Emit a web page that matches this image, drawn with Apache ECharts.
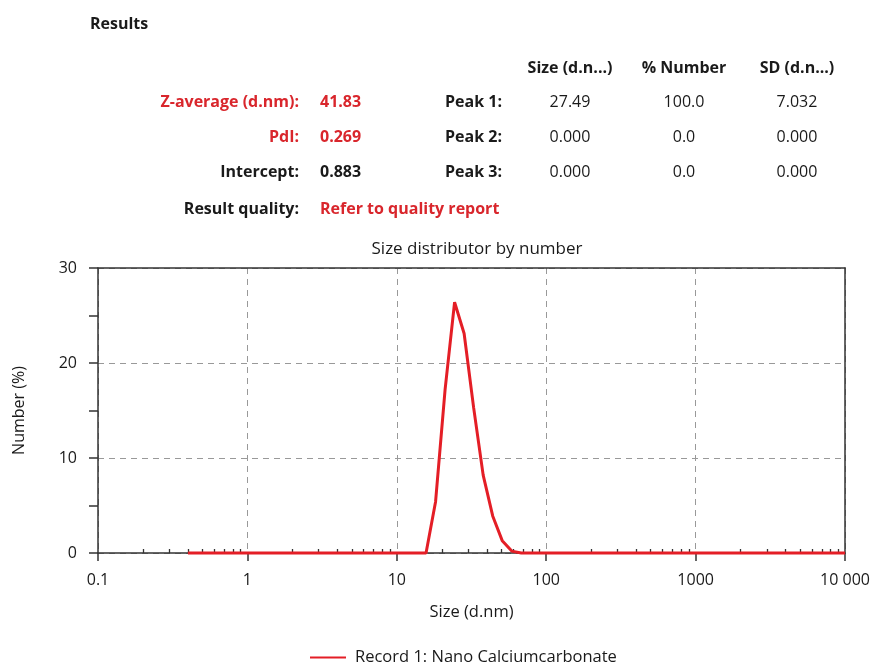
<!DOCTYPE html>
<html><head><meta charset="utf-8">
<script src="https://cdn.jsdelivr.net/npm/echarts@6/dist/echarts.min.js"></script>
<style>html,body{margin:0;padding:0;background:#fff}#c{width:873px;height:662px}</style>
</head><body><div id="c"></div>
<script>
// ---- data ----
const sizes = [0.4000, 0.4632, 0.5365, 0.6213, 0.7195, 0.8332, 0.9649, 1.117, 1.294, 1.499, 1.736, 2.010, 2.328, 2.696, 3.122, 3.615, 4.187, 4.849, 5.615, 6.503, 7.531, 8.721, 10.10, 11.70, 13.54, 15.69, 18.17, 21.04, 24.36, 28.21, 32.67, 37.84, 43.82, 50.75, 58.77, 68.06, 78.82, 91.28, 105.7, 122.4, 141.8, 164.2, 190.1, 220.2, 255.0, 295.3, 342.0, 396.1, 458.7, 531.2, 615.1, 712.4, 825.0, 955.4, 1106, 1281, 1484, 1718, 1990, 2305, 2669, 3091, 3580, 4145, 4801, 5560, 6439, 7456, 8635, 10000];
const numberPct = [0,0,0,0,0,0,0,0,0,0, 0,0,0,0,0,0,0,0,0,0, 0,0,0,0,0,0, 5.4, 17.2, 26.4, 23.1, 15.3, 8.2, 3.9, 1.3, 0.2, 0, 0,0,0,0,0,0,0,0,0,0, 0,0,0,0,0,0,0,0,0,0, 0,0,0,0,0,0,0,0,0,0, 0,0,0,0];
const xTickValues = [0.1, 1, 10, 100, 1000, 10000];
const xTickLabels = ['0.1', '1', '10', '100', '1000', '10 000'];
const xMinorTicks = [0.2,0.3,0.4,0.5,0.6,0.7,0.8,0.9, 2,3,4,5,6,7,8,9, 20,30,40,50,60,70,80,90, 200,300,400,500,600,700,800,900, 2000,3000,4000,5000,6000,7000,8000,9000];
const seriesName = 'Record 1: Nano Calciumcarbonate';

const tableHeaders = ['Size (d.n...)', '% Number', 'SD (d.n...)'];
const peakNames = ['Peak 1:', 'Peak 2:', 'Peak 3:'];
const peakSizes = ['27.49', '0.000', '0.000'];
const peakPercents = ['100.0', '0.0', '0.0'];
const peakSDs = ['7.032', '0.000', '0.000'];
const summaryLabels = ['Z-average (d.nm):', 'PdI:', 'Intercept:', 'Result quality:'];
const summaryValues = ['41.83', '0.269', '0.883', 'Refer to quality report'];
const summaryLabelRed = [true, true, false, false];
const summaryValueRed = [true, true, false, true];

// ---- styling ----
const FONT = '"Open Sans", "Noto Sans", sans-serif';
const RED = '#d9262c';
const LINE_RED = '#e41e26';
const TXT = '#1a1a1a';

const graphic = [];
function txt(x, y, s, align, bold, color) {
  graphic.push({type: 'text', x: x, y: y, style: {text: s, textAlign: align, textVerticalAlign: 'middle',
    font: (bold ? 'bold ' : '') + '16px ' + FONT, fill: color || TXT}});
}
txt(90, 24, 'Results', 'left', true);
const headerX = [570, 684, 797];
tableHeaders.forEach((h, i) => txt(headerX[i], 68, h, 'center', true));
const rowY = [102, 137, 172, 209];
summaryLabels.forEach((s, i) => {
  txt(299, rowY[i], s, 'right', true, summaryLabelRed[i] ? RED : TXT);
  txt(320, rowY[i], summaryValues[i], 'left', true, summaryValueRed[i] ? RED : TXT);
});
peakNames.forEach((p, i) => {
  txt(502, rowY[i], p, 'right', true);
  txt(headerX[0], rowY[i], peakSizes[i], 'center', false);
  txt(headerX[1], rowY[i], peakPercents[i], 'center', false);
  txt(headerX[2], rowY[i], peakSDs[i], 'center', false);
});

const chart = echarts.init(document.getElementById('c'));
const axisLineStyle = {color: '#333', width: 1.5};
chart.setOption({
  animation: false,
  textStyle: {fontFamily: FONT},
  title: {text: 'Size distributor by number', left: 472, textAlign: 'center', top: 236,
    textStyle: {fontFamily: FONT, fontSize: 17, fontWeight: 'normal', color: TXT}},
  graphic: graphic,
  legend: {bottom: -4, left: 310, padding: 0, itemWidth: 36, itemHeight: 14, icon: 'path://M0,6 L36,6 L36,8 L0,8 Z',
    textStyle: {fontFamily: FONT, fontSize: 16.5, color: TXT, padding: [0, 0, 0, 4]}, data: [seriesName]},
  grid: {left: 98, right: 27, top: 268, bottom: 109, containLabel: false},
  xAxis: [
    {type: 'log', logBase: 10, min: 0.1, max: 10000, position: 'bottom',
      name: 'Size (d.nm)', nameLocation: 'middle', nameGap: 51,
      nameTextStyle: {fontFamily: FONT, fontSize: 16.5, color: TXT},
      axisLine: {show: true, lineStyle: axisLineStyle},
      axisTick: {show: true, inside: false, length: 8, lineStyle: {color: '#333', width: 1.5}, customValues: xTickValues},
      axisLabel: {show: true, margin: 19, fontFamily: FONT, fontSize: 16, color: TXT, customValues: xTickValues,
        formatter: v => { const i = xTickValues.findIndex(t => Math.abs(t - v) / t < 1e-6); return i >= 0 ? xTickLabels[i] : ''; }},
      splitLine: {show: true, lineStyle: {color: '#999', type: [6, 5], width: 1}},
      minorTick: {show: false}},
    {type: 'log', logBase: 10, min: 0.1, max: 10000, position: 'bottom',
      axisLine: {show: false},
      axisTick: {show: true, inside: true, length: 4, lineStyle: {color: '#333', width: 1.3}, customValues: xMinorTicks},
      axisLabel: {show: false}, splitLine: {show: false}},
    {type: 'log', logBase: 10, min: 0.1, max: 10000, position: 'top',
      axisLine: {show: true, lineStyle: axisLineStyle},
      axisTick: {show: false}, axisLabel: {show: false}, splitLine: {show: false}}
  ],
  yAxis: [
    {type: 'value', min: 0, max: 30, interval: 10, position: 'left',
      name: 'Number (%)', nameLocation: 'middle', nameGap: 71, nameRotate: 90,
      nameTextStyle: {fontFamily: FONT, fontSize: 16, color: TXT},
      axisLine: {show: true, lineStyle: axisLineStyle},
      axisTick: {show: true, inside: false, length: 9, lineStyle: {color: '#333', width: 1.5}},
      minorTick: {show: true, splitNumber: 2, length: 9, lineStyle: {color: '#333', width: 1.5}},
      axisLabel: {margin: 21, fontFamily: FONT, fontSize: 16, color: TXT},
      splitLine: {show: true, lineStyle: {color: '#999', type: [6, 5], width: 1}}},
    {type: 'value', min: 0, max: 30, interval: 10, position: 'right',
      axisLine: {show: true, lineStyle: axisLineStyle},
      axisTick: {show: false}, axisLabel: {show: false}, splitLine: {show: false}}
  ],
  series: [{
    name: seriesName, type: 'line', xAxisIndex: 0, yAxisIndex: 0,
    data: sizes.map((s, i) => [s, numberPct[i]]),
    symbol: 'none', smooth: false, clip: false,
    lineStyle: {color: LINE_RED, width: 3},
    itemStyle: {color: LINE_RED}, z: 5
  }]
});
</script></body></html>
